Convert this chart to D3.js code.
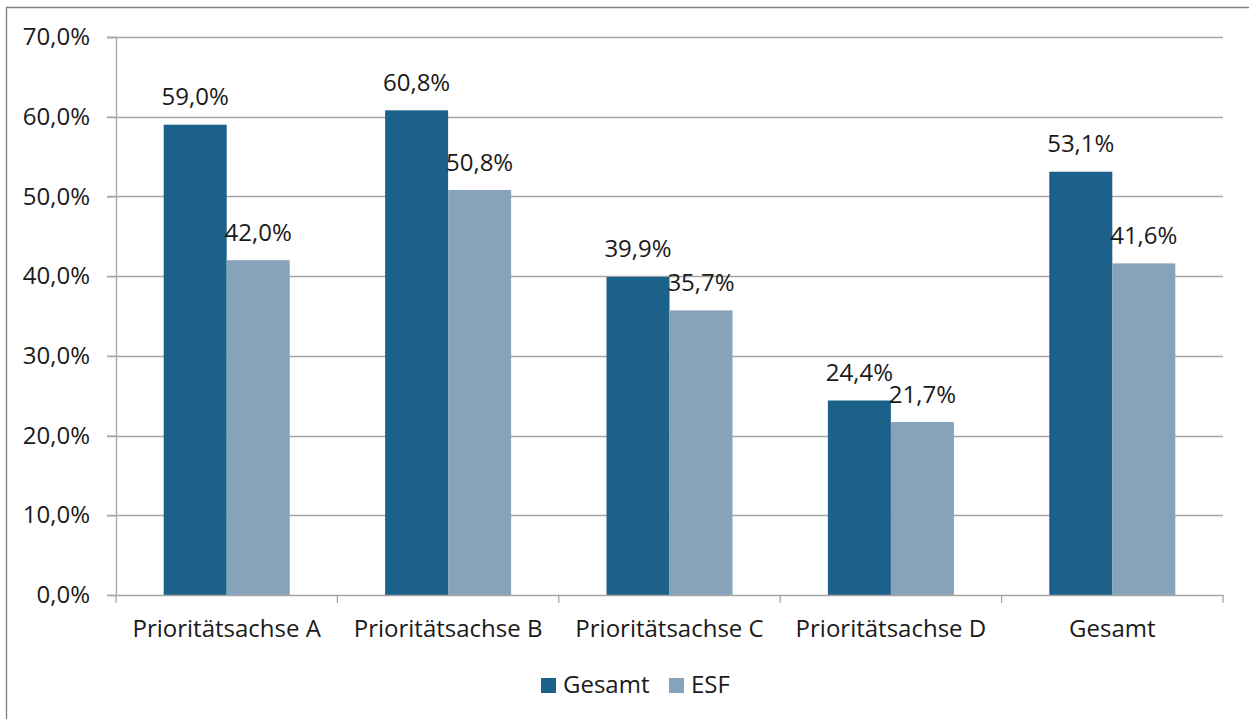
<!DOCTYPE html>
<html lang="de">
<head>
<meta charset="UTF-8">
<title>Prioritätsachsen</title>
<script src="https://d3js.org/d3.v7.min.js"></script>
<style>
  body { margin: 0; background: #fff; font-family: "Open Sans", sans-serif; }
</style>
</head>
<body>
<div id="chart"></div>
<script>
// data
const categories = ["Prioritätsachse A", "Prioritätsachse B", "Prioritätsachse C", "Prioritätsachse D", "Gesamt"];
const seriesNames = ["Gesamt", "ESF"];
const gesamtValues = [59.0, 60.8, 39.9, 24.4, 53.1];
const esfValues = [42.0, 50.8, 35.7, 21.7, 41.6];
const yTicks = [0, 10, 20, 30, 40, 50, 60, 70];

const width = 1249, height = 719;
const fontSize = 24;
const colors = { "Gesamt": "#1b6189", "ESF": "#87a3bb" };
const fmt = v => v.toFixed(1).replace(".", ",") + "%";

const svg = d3.select("#chart").append("svg")
    .attr("width", width)
    .attr("height", height)
    .style("font-family", "'Open Sans', sans-serif");

// outer frame (left and top edges visible)
svg.append("path")
    .attr("d", `M6.5,${height + 2}V7.5H${width + 2}`)
    .attr("fill", "none")
    .attr("stroke", "#7f7f7f")
    .attr("stroke-width", 1.3);

const plot = { left: 116, right: 1223, top: 37, bottom: 595 };

const x = d3.scaleBand().domain(categories).range([plot.left, plot.right]).padding(0);
const xSub = d3.scaleBand().domain(seriesNames).range([0, x.bandwidth()]).paddingInner(0).paddingOuter(0.757);
const y = d3.scaleLinear().domain([0, 70]).range([plot.bottom, plot.top]);

// gridlines
svg.append("g")
    .selectAll("line")
    .data(yTicks.filter(d => d > 0))
    .join("line")
    .attr("x1", plot.left - 9).attr("x2", plot.right)
    .attr("y1", d => Math.round(y(d)) + 0.5).attr("y2", d => Math.round(y(d)) + 0.5)
    .attr("stroke", "#a6a6a6")
    .attr("stroke-width", 1.3);

// bars
const rows = categories.map((c, i) => ({ cat: c, values: [
    { key: "Gesamt", value: gesamtValues[i] },
    { key: "ESF", value: esfValues[i] }
] }));

const groups = svg.append("g")
    .selectAll("g")
    .data(rows)
    .join("g")
    .attr("transform", d => `translate(${x(d.cat)},0)`);

groups.selectAll("rect")
    .data(d => d.values)
    .join("rect")
    .attr("x", d => xSub(d.key))
    .attr("y", d => y(d.value))
    .attr("width", xSub.bandwidth())
    .attr("height", d => y(0) - y(d.value))
    .attr("fill", d => colors[d.key]);

groups.selectAll("text")
    .data(d => d.values)
    .join("text")
    .attr("x", d => xSub(d.key) + xSub.bandwidth() / 2)
    .attr("y", d => y(d.value) - 19.5)
    .attr("text-anchor", "middle")
    .attr("font-size", fontSize)
    .attr("fill", "#1a1a1a")
    .text(d => fmt(d.value));

// y axis
const yAxis = svg.append("g")
    .attr("transform", `translate(${plot.left},0)`)
    .call(d3.axisLeft(y).tickValues(yTicks).tickSize(9).tickPadding(17).tickFormat(d => fmt(d)));
yAxis.select(".domain").attr("stroke", "#a6a6a6").attr("stroke-width", 1.3);
yAxis.selectAll(".tick line").attr("stroke", "#a6a6a6").attr("stroke-width", 1.3);
yAxis.selectAll(".tick text")
    .attr("font-size", fontSize)
    .attr("font-family", "'Open Sans', sans-serif")
    .attr("fill", "#1a1a1a");

// x axis
const xAxis = svg.append("g")
    .attr("transform", `translate(0,${plot.bottom})`)
    .call(d3.axisBottom(x).tickSize(0).tickPadding(25));
xAxis.select(".domain").attr("stroke", "#a6a6a6").attr("stroke-width", 1.3);
xAxis.selectAll(".tick text")
    .attr("font-size", fontSize)
    .attr("font-family", "'Open Sans', sans-serif")
    .attr("fill", "#1a1a1a");

// category boundary ticks
svg.append("g")
    .selectAll("line")
    .data(categories.map(c => x(c)).concat([plot.right]))
    .join("line")
    .attr("x1", d => d).attr("x2", d => d)
    .attr("y1", plot.bottom).attr("y2", plot.bottom + 8)
    .attr("stroke", "#a6a6a6")
    .attr("stroke-width", 1.3);

// legend
const legend = svg.append("g");
const legendX = [541, 669];
seriesNames.forEach((s, i) => {
    legend.append("rect")
        .attr("x", legendX[i]).attr("y", 678)
        .attr("width", 15).attr("height", 15)
        .attr("fill", colors[s]);
    legend.append("text")
        .attr("x", legendX[i] + 22).attr("y", 693)
        .attr("font-size", fontSize)
        .attr("fill", "#1a1a1a")
        .text(s);
});
</script>
</body>
</html>
